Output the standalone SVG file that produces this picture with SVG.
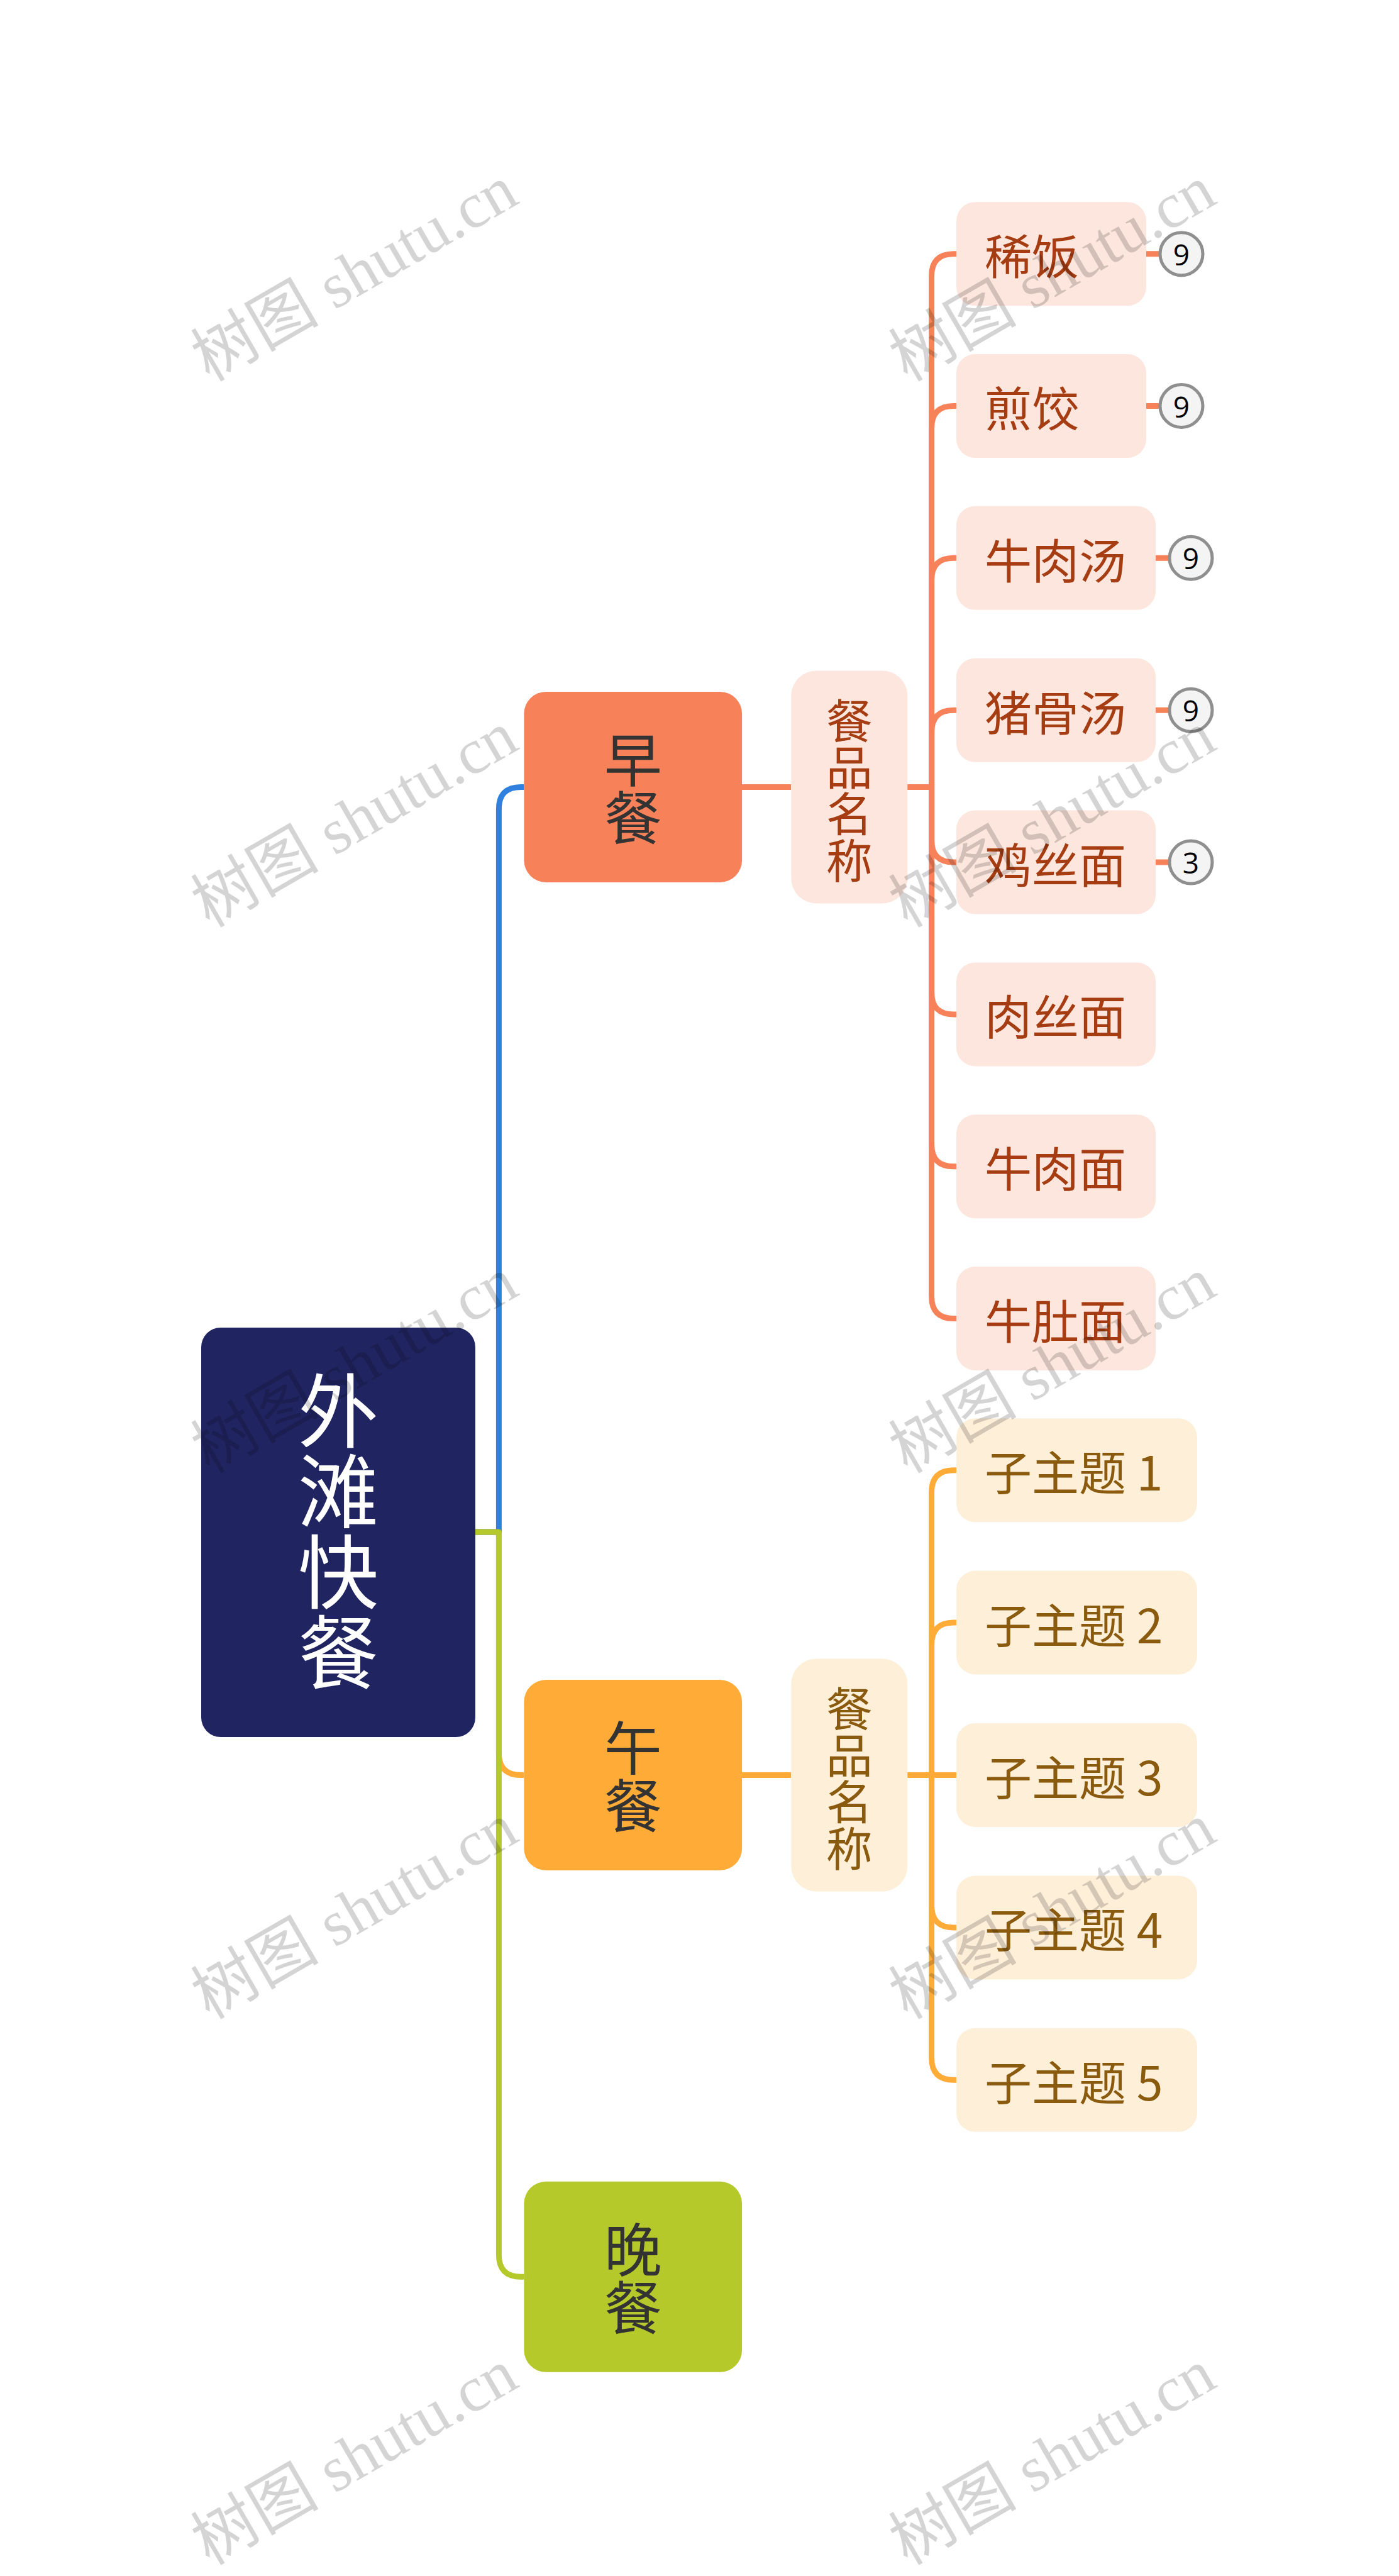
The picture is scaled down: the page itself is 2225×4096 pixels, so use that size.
<svg xmlns="http://www.w3.org/2000/svg" width="2225" height="4096" viewBox="0 0 2225 4096">
<style>
text{font-family:"Noto Sans CJK SC","Noto Sans",sans-serif;}
.c{fill:none;stroke-width:9;stroke-linecap:butt;stroke-linejoin:round;}
.cb{stroke:#3080E0;}
.co{stroke:#F7825A;}
.cy{stroke:#FFAB38;}
.cg{stroke:#B5C92B;}
.root-t{fill:#FFFFFF;font-size:128px;text-anchor:middle;dominant-baseline:central;}
.br-t{fill:#333333;font-size:92px;text-anchor:middle;dominant-baseline:central;}
.sub-t{font-size:74px;text-anchor:middle;dominant-baseline:central;}
.leaf-t{font-size:75px;dominant-baseline:central;}
.ot{fill:#A53C12;}
.yt{fill:#8A5A0E;}
.of{fill:#FDE6DD;}
.yf{fill:#FEEFD9;}
.badge{fill:#F4F4F4;stroke:#8F8F8F;stroke-width:5;}
.badge-t{fill:#000;font-family:"Open Sans","Noto Sans",sans-serif;font-size:46px;text-anchor:middle;dominant-baseline:central;}
.wm{font-family:"Liberation Serif","Noto Sans CJK SC",serif;font-size:102px;fill:#000;fill-opacity:0.17;}
</style>
<rect width="2225" height="4096" fill="#FFFFFF"/>
<g id="connectors">
<path class="c cy" d="M756 2436 H793.4 V2787.5 Q793.4 2822.5 828.4 2822.5 H833.4"/>
<path class="c cb" d="M756 2436 H793.4 V1286.4 Q793.4 1251.4 828.4 1251.4 H833.4"/>
<path class="c cg" d="M756 2436 H793.4 V3585.3 Q793.4 3620.3 828.4 3620.3 H833.4"/>
<path class="c co" d="M1180 1251.4 H1258.3"/>
<path class="c co" d="M1443.4 1251.4 H1481.6 V438.7 Q1481.6 403.7 1516.6 403.7 H1521"/>
<path class="c co" d="M1443.4 1251.4 H1481.6 V680.5 Q1481.6 645.5 1516.6 645.5 H1521"/>
<path class="c co" d="M1443.4 1251.4 H1481.6 V922.3 Q1481.6 887.3 1516.6 887.3 H1521"/>
<path class="c co" d="M1443.4 1251.4 H1481.6 V1164.2 Q1481.6 1129.2 1516.6 1129.2 H1521"/>
<path class="c co" d="M1443.4 1251.4 H1481.6 V1336 Q1481.6 1371 1516.6 1371 H1521"/>
<path class="c co" d="M1443.4 1251.4 H1481.6 V1577.9 Q1481.6 1612.9 1516.6 1612.9 H1521"/>
<path class="c co" d="M1443.4 1251.4 H1481.6 V1819.7 Q1481.6 1854.7 1516.6 1854.7 H1521"/>
<path class="c co" d="M1443.4 1251.4 H1481.6 V2061.5 Q1481.6 2096.5 1516.6 2096.5 H1521"/>
<path class="c co" d="M1823 403.7 H1846"/>
<path class="c co" d="M1823 645.5 H1846"/>
<path class="c co" d="M1838 887.3 H1861"/>
<path class="c co" d="M1838 1129.2 H1861"/>
<path class="c co" d="M1838 1371 H1861"/>
<path class="c cy" d="M1180 2822.5 H1258.3"/>
<path class="c cy" d="M1443.4 2822.5 H1481.6 V2372.7 Q1481.6 2337.7 1516.6 2337.7 H1521"/>
<path class="c cy" d="M1443.4 2822.5 H1481.6 V2615.1 Q1481.6 2580.1 1516.6 2580.1 H1521"/>
<path class="c cy" d="M1443.4 2822.5 H1521"/>
<path class="c cy" d="M1443.4 2822.5 H1481.6 V3029.9 Q1481.6 3064.9 1516.6 3064.9 H1521"/>
<path class="c cy" d="M1443.4 2822.5 H1481.6 V3272.3 Q1481.6 3307.3 1516.6 3307.3 H1521"/>
</g>
<g id="root">
<rect x="320" y="2111" width="436" height="651" rx="31" fill="#202562"/>
<text class="root-t"><tspan x="538" y="2236">外</tspan><tspan x="538" y="2364">滩</tspan><tspan x="538" y="2492">快</tspan><tspan x="538" y="2620">餐</tspan></text>
</g>
<g id="breakfast">
<rect x="833.4" y="1099.9" width="346.7" height="303" rx="35" fill="#F7825A"/>
<text class="br-t"><tspan x="1006.8" y="1202">早</tspan><tspan x="1006.8" y="1294">餐</tspan></text>
</g>
<g id="lunch">
<rect x="833.4" y="2671" width="346.7" height="303" rx="35" fill="#FFAB38"/>
<text class="br-t"><tspan x="1006.8" y="2773">午</tspan><tspan x="1006.8" y="2865">餐</tspan></text>
</g>
<g id="dinner">
<rect x="833.4" y="3468.8" width="346.7" height="303" rx="35" fill="#B5C92B"/>
<text class="br-t"><tspan x="1006.8" y="3571">晚</tspan><tspan x="1006.8" y="3663">餐</tspan></text>
</g>
<g id="breakfast-sub">
<rect class="of" x="1258.3" y="1066.4" width="185" height="370" rx="40"/>
<text class="sub-t ot"><tspan x="1350.8" y="1141">餐</tspan><tspan x="1350.8" y="1215">品</tspan><tspan x="1350.8" y="1289">名</tspan><tspan x="1350.8" y="1363">称</tspan></text>
</g>
<g id="lunch-sub">
<rect class="yf" x="1258.3" y="2637.5" width="185" height="370" rx="40"/>
<text class="sub-t yt"><tspan x="1350.8" y="2712">餐</tspan><tspan x="1350.8" y="2786">品</tspan><tspan x="1350.8" y="2860">名</tspan><tspan x="1350.8" y="2934">称</tspan></text>
</g>
<g id="leaf-1"><rect class="of" x="1521" y="321.2" width="302" height="165" rx="30"/><text class="leaf-t ot" x="1566" y="403.7">稀饭</text></g>
<g id="leaf-2"><rect class="of" x="1521" y="563" width="302" height="165" rx="30"/><text class="leaf-t ot" x="1566" y="645.5">煎饺</text></g>
<g id="leaf-3"><rect class="of" x="1521" y="804.8" width="317" height="165" rx="30"/><text class="leaf-t ot" x="1566" y="887.3">牛肉汤</text></g>
<g id="leaf-4"><rect class="of" x="1521" y="1046.7" width="317" height="165" rx="30"/><text class="leaf-t ot" x="1566" y="1129.2">猪骨汤</text></g>
<g id="leaf-5"><rect class="of" x="1521" y="1288.5" width="317" height="165" rx="30"/><text class="leaf-t ot" x="1566" y="1371">鸡丝面</text></g>
<g id="leaf-6"><rect class="of" x="1521" y="1530.4" width="317" height="165" rx="30"/><text class="leaf-t ot" x="1566" y="1612.9">肉丝面</text></g>
<g id="leaf-7"><rect class="of" x="1521" y="1772.2" width="317" height="165" rx="30"/><text class="leaf-t ot" x="1566" y="1854.7">牛肉面</text></g>
<g id="leaf-8"><rect class="of" x="1521" y="2014" width="317" height="165" rx="30"/><text class="leaf-t ot" x="1566" y="2096.5">牛肚面</text></g>
<g id="badge-1"><circle class="badge" cx="1879" cy="403.7" r="34"/><text class="badge-t" x="1879" y="403.7">9</text></g>
<g id="badge-2"><circle class="badge" cx="1879" cy="645.5" r="34"/><text class="badge-t" x="1879" y="645.5">9</text></g>
<g id="badge-3"><circle class="badge" cx="1894" cy="887.3" r="34"/><text class="badge-t" x="1894" y="887.3">9</text></g>
<g id="badge-4"><circle class="badge" cx="1894" cy="1129.2" r="34"/><text class="badge-t" x="1894" y="1129.2">9</text></g>
<g id="badge-5"><circle class="badge" cx="1894" cy="1371" r="34"/><text class="badge-t" x="1894" y="1371">3</text></g>
<g id="sub-1"><rect class="yf" x="1521" y="2255.2" width="383" height="165" rx="30"/><text class="leaf-t yt" x="1566" y="2337.7">子主题 1</text></g>
<g id="sub-2"><rect class="yf" x="1521" y="2497.6" width="383" height="165" rx="30"/><text class="leaf-t yt" x="1566" y="2580.1">子主题 2</text></g>
<g id="sub-3"><rect class="yf" x="1521" y="2740" width="383" height="165" rx="30"/><text class="leaf-t yt" x="1566" y="2822.5">子主题 3</text></g>
<g id="sub-4"><rect class="yf" x="1521" y="2982.4" width="383" height="165" rx="30"/><text class="leaf-t yt" x="1566" y="3064.9">子主题 4</text></g>
<g id="sub-5"><rect class="yf" x="1521" y="3224.8" width="383" height="165" rx="30"/><text class="leaf-t yt" x="1566" y="3307.3">子主题 5</text></g>
<g id="watermarks">
<text class="wm" transform="translate(333 608) rotate(-30)">树图 shutu.cn</text>
<text class="wm" transform="translate(1443 608) rotate(-30)">树图 shutu.cn</text>
<text class="wm" transform="translate(333 1476) rotate(-30)">树图 shutu.cn</text>
<text class="wm" transform="translate(1443 1476) rotate(-30)">树图 shutu.cn</text>
<text class="wm" transform="translate(333 2344) rotate(-30)">树图 shutu.cn</text>
<text class="wm" transform="translate(1443 2344) rotate(-30)">树图 shutu.cn</text>
<text class="wm" transform="translate(333 3212) rotate(-30)">树图 shutu.cn</text>
<text class="wm" transform="translate(1443 3212) rotate(-30)">树图 shutu.cn</text>
<text class="wm" transform="translate(333 4080) rotate(-30)">树图 shutu.cn</text>
<text class="wm" transform="translate(1443 4080) rotate(-30)">树图 shutu.cn</text>
</g>
</svg>
